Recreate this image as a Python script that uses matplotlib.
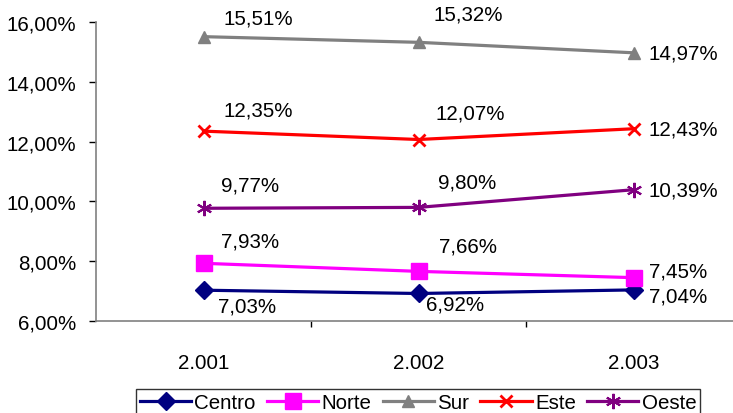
import matplotlib
matplotlib.use("Agg")
import matplotlib.pyplot as plt
from matplotlib.ticker import FuncFormatter

plt.rcParams['font.family'] = ['Liberation Sans', 'DejaVu Sans']
plt.rcParams['font.size'] = 14.8

years = ["2.001", "2.002", "2.003"]
centro = [7.03, 6.92, 7.04]
norte = [7.93, 7.66, 7.45]
sur = [15.51, 15.32, 14.97]
este = [12.35, 12.07, 12.43]
oeste = [9.77, 9.80, 10.39]

# name, values, color, marker, markersize, marker edge width, label offsets (px)
series = [
    ("Centro", centro, "#000080", "D", 9, 1, [(44, -16), (37, -11), (15, -6)]),
    ("Norte", norte, "#FF00FF", "s", 11, 1, [(47, 22), (49, 25), (15, 7)]),
    ("Sur", sur, "#808080", "^", 9, 1, [(55, 19), (50, 28), (15, 0)]),
    ("Este", este, "#FF0000", "x", 8, 2, [(55, 21), (52, 27), (15, 0)]),
    ("Oeste", oeste, "#800080", (6, 2, 0), 11, 1.5, [(47, 23), (49, 25), (15, 0)]),
]

W, H = 733, 414
fig = plt.figure(figsize=(W / 100, H / 100), dpi=100)
ax = fig.add_axes([96 / W, 92 / H, (741 - 96) / W, 299 / H])

x = list(range(len(years)))
handles = []
for name, vals, col, mk, ms, mew, offs in series:
    h, = ax.plot(x, vals, color=col, lw=2.3, marker=mk, ms=ms, mew=mew,
                 mec=col, mfc=col, label=name, clip_on=False)
    handles.append(h)
    for i, v in enumerate(vals):
        dx, dy = offs[i]
        txt = f"{v:.2f}%".replace(".", ",")
        ax.annotate(txt, (i, v), xytext=(dx, dy), textcoords="offset pixels",
                    ha="left" if i == 2 else "center", va="center",
                    fontsize=14.8, color="black")

ax.set_xlim(-0.5, 2.5)
ax.set_ylim(6, 16)
ax.set_yticks([6, 8, 10, 12, 14, 16])
ax.yaxis.set_major_formatter(FuncFormatter(lambda v, p: f"{v:.2f}%".replace(".", ",")))
ax.set_xticks(x)
ax.set_xticklabels(years)
ax.set_xticks([0.5, 1.5, 2.5], minor=True)
ax.tick_params(axis="x", which="major", length=0, pad=23)
ax.tick_params(axis="x", which="minor", length=4.5, width=1, color="black")
ax.tick_params(axis="y", length=5, width=1, color="black", pad=9)

for s in ("top", "right"):
    ax.spines[s].set_visible(False)
ax.spines["left"].set_color("#808080")
ax.spines["bottom"].set_color("#808080")
ax.spines["left"].set_linewidth(1.2)
ax.spines["bottom"].set_linewidth(1.2)

leg = fig.legend(handles=handles, loc="upper center", ncol=5,
                 bbox_to_anchor=(418 / W, 1 - 390 / H),
                 frameon=True, fancybox=False, edgecolor="black",
                 handlelength=2.5, handletextpad=0.15, columnspacing=0.55,
                 borderpad=0.2, borderaxespad=0, fontsize=14.8)
leg.get_frame().set_linewidth(1)

fig.savefig("out.png", dpi=100)
